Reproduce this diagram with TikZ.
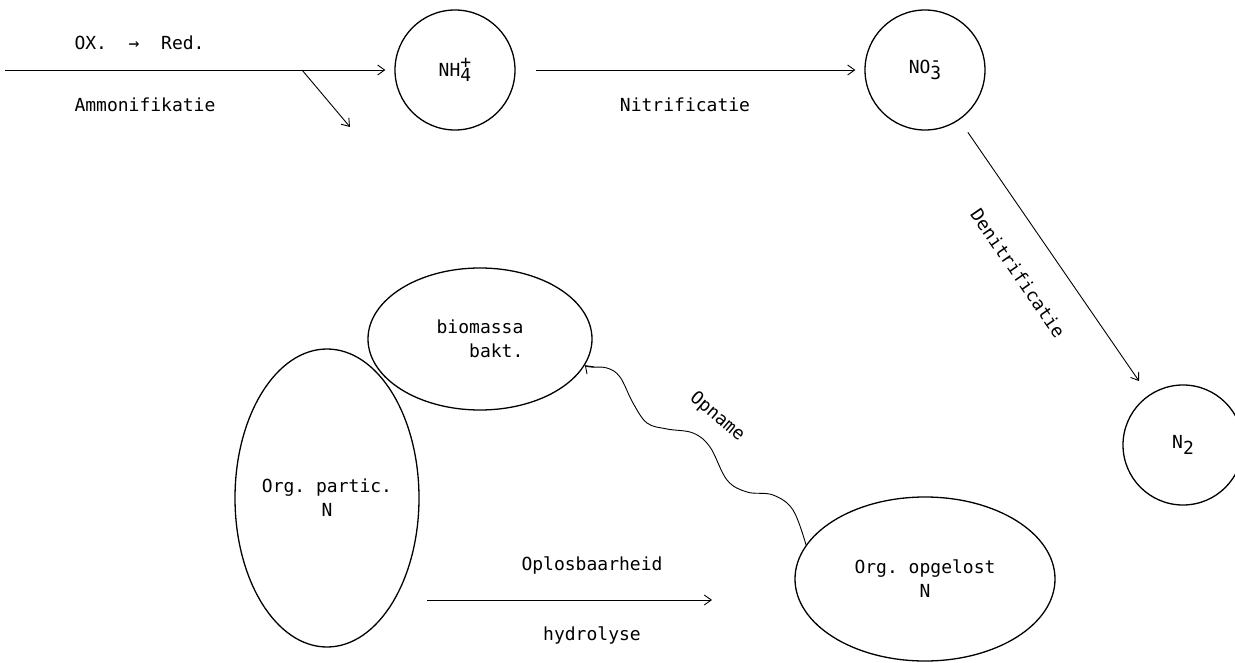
\documentclass[tikz,border=0pt]{standalone}
\usepackage{fontspec}
\setmonofont{DejaVu Sans Mono}
\usetikzlibrary{arrows.meta,shapes.geometric}
\newcommand{\ionidx}[2]{\raisebox{-0.55ex}{\rlap{#1}}\raisebox{0.8ex}{#2}}

\begin{document}
\begin{tikzpicture}[x=1pt,y=1pt,
          every node/.style={font=\ttfamily\fontsize{18}{24}\selectfont},
          species/.style={circle,draw,line width=1.3pt,
            minimum size=120pt,inner sep=0pt},
          pool/.style={ellipse,draw,line width=1.3pt,
            inner sep=0pt,align=center},
          flow/.style={-{Straight Barb[length=7pt,width=10pt]},line width=0.9pt}]

        \useasboundingbox (0,0) rectangle (1235,-663);

        \node[species] (nh4) at (455,-70) {NH\ionidx{4}{+}};
        \node[species] (no3) at (925,-70) {NO\ionidx{3}{-}};
        \node[species] (n2) at (1183,-445) {N\raisebox{-0.55ex}{2}};

        \node[pool,align=left,minimum width=224pt,minimum height=142pt] (bio)
          at (480,-339) {biomassa\\\phantom{bio}bakt.};
        \node[pool,minimum width=184pt,minimum height=298pt] (part)
          at (327,-498) {Org. partic.\\N};
        \node[pool,minimum width=260pt,minimum height=164pt] (opg)
          at (925,-579) {Org. opgelost\\N};

        % ammonifikatie
        \coordinate (src) at (5,-70);
        \coordinate (fork) at (302,-70);
        \coordinate (forkend) at (350,-127);
        \draw[flow] (src) -- ([xshift=-9pt]nh4.west);
        \draw[flow] (fork) -- (forkend);
        \node[anchor=west] (redox) at (71,-43) {OX.~~→~~Red.};
        \node[anchor=west] (ammon) at (71,-105) {Ammonifikatie};

        % nitrificatie
        \draw[flow,shorten <=20pt,shorten >=9pt] (nh4) -- (no3);
        \node (nitri) at (685,-105) {Nitrificatie};

        % denitrificatie
        \draw[flow,shorten <=15pt,shorten >=17pt] (no3) -- (n2);
        \node[rotate=-55.5] (denitri) at (1018,-273) {Denitrificatie};

        % opname
        \draw[flow] plot[smooth,tension=0.6] coordinates {(opg.164)
          (793,-510) (773,-495) (747,-492) (727,-480) (710,-447)
          (693,-433) (667,-429) (647,-423) (633,-403) (620,-377)
          (607,-368) (590,-367) (bio.-14)};
        \node[rotate=-40] (opname) at (717,-417) {Opname};

        % hydrolyse
        \coordinate (hyd1) at (427,-600);
        \coordinate (hyd2) at (712,-600);
        \draw[flow] (hyd1) -- (hyd2);
        \node (oplos) at (592,-565) {Oplosbaarheid};
        \node (hydro) at (592,-635) {hydrolyse};

      \end{tikzpicture}
\end{document}
